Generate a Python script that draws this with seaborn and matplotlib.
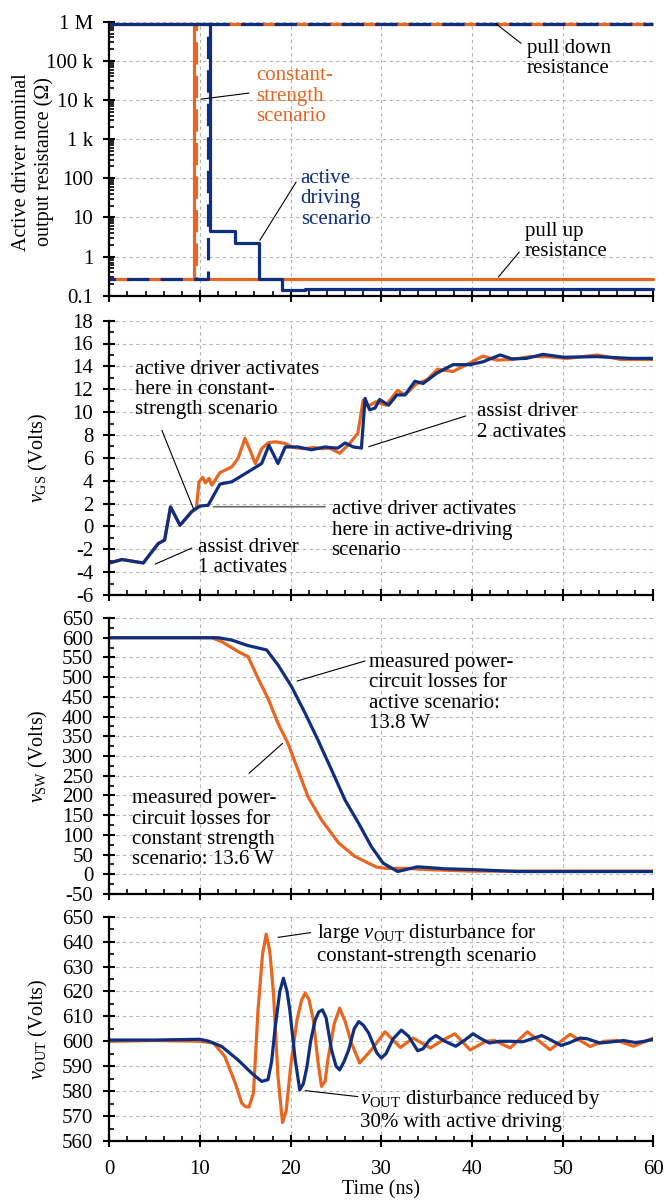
import numpy as np
import pandas as pd
import matplotlib
matplotlib.use("Agg")
import matplotlib.pyplot as plt
import matplotlib.ticker as mticker
import seaborn as sns

# ---------------- data ----------------
ORANGE = "#E8661F"
BLUE = "#0E2F80"

# Panel 1: nominal output resistance (step data, steps-post)
r_cs_up_t = [0, 9.37, 60]
r_cs_up_v = [9e5, 0.27, 0.27]
r_cs_dn_t = [0, 9.6, 60]
r_cs_dn_v = [0.27, 9e5, 9e5]
r_ad_up_t = [0, 11.1, 13.86, 16.5, 19.0, 21.6, 60]
r_ad_up_v = [9e5, 4.4, 2.25, 0.27, 0.14, 0.152, 0.152]
r_ad_dn_t = [0, 10.9, 60]
r_ad_dn_v = [0.27, 9e5, 9e5]

# Panel 2: vGS
vgs_cs_t = [0, 1.4, 3.75, 5.4, 6.1, 6.75, 7.8, 9.1, 9.6, 9.9, 10.3, 10.6, 11.0, 11.3, 12.2, 13.5,
            14.2, 14.96, 15.5, 16.1, 16.8, 17.5, 18.3, 19.4, 20.3, 21.5, 22.5, 23.5, 24.3, 25.4,
            26.5, 27.4, 28.0, 28.5, 29.4, 30.5, 31.8, 32.6, 33.9, 35.0, 36.2, 37.9, 39.4, 41.2,
            42.7, 44.4, 46.4, 48.2, 50.5, 53.8, 56.4, 60]
vgs_cs_v = [-3.2, -2.9, -3.2, -1.5, -1.2, 1.7, 0.1, 1.3, 1.6, 3.9, 4.3, 3.8, 4.2, 3.6, 4.7, 5.2,
            5.95, 7.7, 6.7, 5.5, 6.8, 7.3, 7.4, 7.25, 6.9, 6.8, 6.9, 6.8, 6.85, 6.4,
            7.25, 8.15, 11.05, 10.5, 10.9, 10.6, 11.9, 11.5, 12.5, 12.8, 13.75, 13.55, 14.15, 14.9,
            14.55, 14.6, 14.85, 14.85, 14.7, 15.0, 14.6, 14.6]
vgs_ad_t = [0, 1.4, 3.75, 5.4, 6.1, 6.75, 7.8, 9.1, 10.0, 10.9, 12.2, 13.5, 14.96, 16.8, 17.6,
            18.6, 19.4, 20.8, 22.3, 23.8, 24.3, 25.2, 26.0, 26.9, 27.8, 28.2, 28.7, 29.3, 29.8,
            30.8, 31.7, 32.6, 33.7, 34.6, 36.1, 37.9, 39.8, 41.2, 43.1, 44.4, 46.0, 47.8, 50.1,
            53.8, 57.4, 60]
vgs_ad_v = [-3.2, -2.9, -3.2, -1.5, -1.2, 1.7, 0.1, 1.3, 1.78, 1.85, 3.7, 3.9, 4.6, 5.5, 7.1,
            5.5, 6.95, 6.95, 6.7, 6.95, 6.9, 6.85, 7.3, 6.95, 6.85, 11.2, 10.2, 10.35, 11.1,
            10.6, 11.5, 11.5, 12.7, 12.5, 13.4, 14.15, 14.15, 14.4, 15.0, 14.65, 14.7, 15.05, 14.8,
            14.85, 14.7, 14.7]

# Panel 3: vSW
vsw_cs_t = [0, 11.3, 12.4, 14.2, 15.3, 16.4, 17.5, 18.6, 19.7, 20.8, 21.9, 23.4, 25.3, 27.1,
            28.6, 29.5, 30.5, 33.0, 35.0, 40.0, 50.0, 60]
vsw_cs_v = [600, 600, 590, 565, 552, 497, 446, 383, 332, 265, 197, 138, 79, 45,
            28, 18, 15, 15, 12, 8, 8, 8]
vsw_ad_t = [0, 12.0, 13.5, 15.3, 17.35, 18.6, 20.1, 21.6, 23.0, 24.5, 26.0, 27.5, 28.9, 30.2,
            31.8, 34.0, 37.0, 40.0, 45.0, 60]
vsw_ad_v = [600, 600, 594, 580, 569, 531, 476, 408, 341, 265, 188, 129, 70, 28,
            7, 19, 14, 12, 7, 7]

# Panel 4: vOUT
vout_cs_t = [0, 5, 10, 11.5, 12.75, 13.9, 14.6, 15.0, 15.4, 15.9, 16.4, 16.9, 17.3, 17.7, 18.1,
             18.6, 19.1, 19.5, 20.0, 20.7, 21.2, 21.6, 22.0, 22.5, 23.0, 23.4, 23.8, 24.1, 24.8,
             25.4, 26.0, 26.7, 27.6, 28.9, 30.4, 32.1, 33.5, 35.4, 36.8, 38.1, 39.8, 41.5, 42.5,
             44.2, 46.1, 48.6, 50.8, 53.0, 54.5, 56.0, 57.8, 59.0, 60]
vout_cs_v = [600, 600.3, 600, 599.3, 593.8, 583.1, 575.2, 573.8, 573.6, 579.3, 612.6, 635, 643,
             636, 619.3, 585.8, 567.4, 572, 590, 608.6, 616.5, 619.3, 617, 608.6, 592, 581.9,
             584, 592.6, 607, 613.3, 608, 599.3, 591.3, 596.6, 603.8, 597.5, 601.3, 597.3, 600.5,
             603, 596.5, 600, 600.3, 597.3, 603.8, 596.6, 602.8, 597.9, 600, 600.3, 598, 599.8,
             601.3]
vout_ad_t = [0, 5, 10, 11, 12.4, 14.2, 15.7, 16.8, 17.5, 17.9, 18.3, 18.8, 19.2, 19.6, 19.9,
             20.5, 21.0, 21.4, 21.8, 22.2, 22.7, 23.1, 23.5, 23.9, 24.5, 25.0, 25.4, 25.9, 26.4,
             27.0, 27.5, 28.0, 28.6, 29.5, 30.0, 30.5, 31.3, 32.2, 33.0, 34.0, 34.6, 35.3, 36.0,
             37.0, 38.2, 39.2, 40.1, 41.0, 41.9, 43.0, 44.2, 45.6, 46.6, 47.7, 48.7, 49.8, 50.8,
             51.9, 52.7, 54.1, 55.5, 56.7, 58.0, 59.0, 60]
vout_ad_v = [600.5, 600.5, 600.8, 600, 597.9, 592.5, 587.2, 583.9, 584.6, 592, 605.9, 620,
             625.3, 620, 612.6, 592.5, 580.5, 583, 589.9, 600, 608.6, 611.8, 612.6, 609.5, 596.6,
             590, 588.5, 592, 596.6, 605, 607.9, 606.5, 603.3, 595.3, 593.3, 595, 601, 604.5,
             602, 596.2, 597, 600.5, 602.3, 600, 598, 600.5, 603, 601, 599.3, 600, 600, 599.8,
             601, 602.3, 600.5, 598.3, 599.5, 601.3, 601, 599.3, 599.8, 600.3, 599.5, 600, 600.8]

r_ticks = [0.1, 1, 10, 100, 1e3, 1e4, 1e5, 1e6]
r_ticklabels = ["0.1", "1", "10", "100", "1 k", "10 k", "100 k", "1 M"]
time_ticks = [0, 10, 20, 30, 40, 50, 60]

# ---------------- style ----------------
sns.set_theme(style="white")
plt.rcParams["font.family"] = ["Liberation Serif", "DejaVu Serif"]
plt.rcParams["mathtext.fontset"] = "custom"
plt.rcParams["mathtext.rm"] = "Liberation Serif"
plt.rcParams["mathtext.it"] = "Liberation Serif:italic"
plt.rcParams["axes.linewidth"] = 1.6
plt.rcParams["axes.unicode_minus"] = False
plt.rcParams["text.color"] = "black"

FS_TICK = 15
FS_ANN = 15
FS_LAB = 14.5
LS = 1.1
LW = 2.3

fig = plt.figure(figsize=(6.66, 12), dpi=100)
L, W = 0.1641, 0.8171
ax1 = fig.add_axes([L, 0.7536, W, 0.2283])
ax2 = fig.add_axes([L, 0.5042, W, 0.2286])
ax3 = fig.add_axes([L, 0.2550, W, 0.2300])
ax4 = fig.add_axes([L, 0.0492, W, 0.1869])


def style_axis(ax):
    for s in ["top", "right"]:
        ax.spines[s].set_visible(False)
    for s in ["left", "bottom"]:
        ax.spines[s].set_color("black")
        ax.spines[s].set_linewidth(1.6)
    ax.set_xlim(0, 60)
    ax.set_xticks(time_ticks)
    ax.xaxis.set_minor_locator(mticker.MultipleLocator(2))
    ax.tick_params(axis="both", which="major", direction="inout", length=9, width=1.5,
                   colors="black", labelsize=FS_TICK, left=True, bottom=True)
    ax.tick_params(axis="y", which="major", pad=7)
    ax.tick_params(axis="both", which="minor", direction="in", length=3.5, width=1.2,
                   colors="black", left=True, bottom=True)
    ax.grid(True, which="major", color="#b5b5b5", lw=0.8, ls=(0, (3, 3)))
    ax.set_axisbelow(True)
    ax.set_xlabel("")
    ax.set_ylabel("")


def leader(ax, p0, p1, color="black", lw=0.8):
    ax.annotate("", xy=p0, xytext=p1,
                arrowprops=dict(arrowstyle="-", color=color, lw=lw, shrinkA=0, shrinkB=0))


def note(ax, x, y, s, color="black"):
    ax.text(x, y, s, fontsize=FS_ANN, color=color, ha="left", va="center", linespacing=LS)


DASH = (7, 3.5)

# ---- panel 1 ----
df = pd.DataFrame({"t": r_cs_dn_t, "r": r_cs_dn_v})
sns.lineplot(data=df, x="t", y="r", ax=ax1, color=ORANGE, lw=LW, drawstyle="steps-post",
             ls=(0, DASH), estimator=None, clip_on=False)
df = pd.DataFrame({"t": r_cs_up_t, "r": r_cs_up_v})
sns.lineplot(data=df, x="t", y="r", ax=ax1, color=ORANGE, lw=LW, drawstyle="steps-post",
             estimator=None, clip_on=False)
df = pd.DataFrame({"t": r_ad_dn_t, "r": r_ad_dn_v})
sns.lineplot(data=df, x="t", y="r", ax=ax1, color=BLUE, lw=LW, drawstyle="steps-post",
             ls=(5, DASH), estimator=None, clip_on=False)
df = pd.DataFrame({"t": r_ad_up_t, "r": r_ad_up_v})
sns.lineplot(data=df, x="t", y="r", ax=ax1, color=BLUE, lw=LW, drawstyle="steps-post",
             estimator=None, clip_on=False)
ax1.set_yscale("log")
ax1.set_ylim(0.1, 1e6)
style_axis(ax1)
ax1.set_yticks(r_ticks)
ax1.set_yticklabels(r_ticklabels)
ax1.yaxis.set_minor_locator(mticker.LogLocator(base=10, subs=np.arange(2, 10) * 1.0, numticks=20))
ax1.yaxis.set_minor_formatter(mticker.NullFormatter())
ax1.tick_params(axis="x", labelbottom=False)

note(ax1, 46.0, 1.15e5, "pull down\nresistance")
leader(ax1, (42.6, 9e5), (45.4, 2.8e5))
note(ax1, 16.2, 1.26e4, "constant-\nstrength\nscenario", ORANGE)
leader(ax1, (10.1, 1.05e4), (15.4, 1.5e4))
note(ax1, 21.1, 30, "active\ndriving\nscenario", BLUE)
leader(ax1, (16.6, 2.6), (20.6, 80))
note(ax1, 45.8, 2.46, "pull up\nresistance")
leader(ax1, (42.9, 0.3), (45.2, 1.3))

# ---- panel 2 ----
sns.lineplot(x=vgs_cs_t, y=vgs_cs_v, ax=ax2, color=ORANGE, lw=LW, estimator=None)
sns.lineplot(x=vgs_ad_t, y=vgs_ad_v, ax=ax2, color=BLUE, lw=LW, estimator=None)
ax2.set_ylim(-6, 18)
style_axis(ax2)
ax2.set_yticks(np.arange(-6, 19, 2))
ax2.yaxis.set_minor_locator(mticker.MultipleLocator(1))
ax2.tick_params(axis="x", labelbottom=False)

note(ax2, 2.78, 11.97, "active driver activates\nhere in constant-\nstrength scenario")
leader(ax2, (5.8, 8.4), (9.3, 1.5))
note(ax2, 24.5, -0.34, "active driver activates\nhere in active-driving\nscenario")
leader(ax2, (11.5, 1.72), (23.8, 1.72), color="#6b6b6b", lw=1.2)
note(ax2, 9.8, -2.74, "assist driver\n1 activates")
leader(ax2, (5.06, -3.3), (9.1, -1.9))
note(ax2, 40.5, 9.14, "assist driver\n2 activates")
leader(ax2, (28.6, 6.97), (39.3, 9.66))

# ---- panel 3 ----
sns.lineplot(x=vsw_cs_t, y=vsw_cs_v, ax=ax3, color=ORANGE, lw=LW, estimator=None)
sns.lineplot(x=vsw_ad_t, y=vsw_ad_v, ax=ax3, color=BLUE, lw=LW, estimator=None)
ax3.set_ylim(-50, 650)
style_axis(ax3)
ax3.set_yticks(np.arange(-50, 651, 50))
ax3.yaxis.set_minor_locator(mticker.MultipleLocator(25))
ax3.tick_params(axis="x", labelbottom=False)

note(ax3, 28.6, 460, "measured power-\ncircuit losses for\nactive scenario:\n13.8 W")
leader(ax3, (20.7, 490), (28.2, 541))
note(ax3, 2.45, 114, "measured power-\ncircuit losses for\nconstant strength\nscenario: 13.6 W")
leader(ax3, (15.4, 256), (19.1, 332))

# ---- panel 4 ----
sns.lineplot(x=vout_cs_t, y=vout_cs_v, ax=ax4, color=ORANGE, lw=LW, estimator=None)
sns.lineplot(x=vout_ad_t, y=vout_ad_v, ax=ax4, color=BLUE, lw=LW, estimator=None)
ax4.set_ylim(560, 650)
style_axis(ax4)
ax4.set_yticks(np.arange(560, 651, 10))
ax4.yaxis.set_minor_locator(mticker.MultipleLocator(5))
ax4.tick_params(axis="x", labelbottom=True, pad=9)

note(ax4, 22.9, 639.3, "large $v_{\\mathrm{OUT}}$ disturbance for\nconstant-strength scenario")
leader(ax4, (18.6, 641.7), (22.2, 643.6))
note(ax4, 27.6, 572.4, "$v_{\\mathrm{OUT}}$ disturbance reduced by\n30% with active driving")
leader(ax4, (21.6, 580.2), (27.4, 577.8))

# ---- axis labels ----
fig.text(33 / 666, 1 - 162 / 1200, "Active driver nominal\noutput resistance (Ω)",
         rotation=90, ha="center", va="center", fontsize=FS_LAB, linespacing=1.2)
fig.text(38 / 666, 1 - 457.8 / 1200, "$v_{\\mathrm{GS}}$ (Volts)", rotation=90,
         ha="center", va="center", fontsize=FS_LAB)
fig.text(38 / 666, 1 - 756 / 1200, "$v_{\\mathrm{SW}}$ (Volts)", rotation=90,
         ha="center", va="center", fontsize=FS_LAB)
fig.text(38 / 666, 1 - 1029 / 1200, "$v_{\\mathrm{OUT}}$ (Volts)", rotation=90,
         ha="center", va="center", fontsize=FS_LAB)
fig.text(381.4 / 666, 1 - 1190 / 1200, "Time (ns)", ha="center", va="center", fontsize=FS_LAB)

fig.savefig("out.png", dpi=100)
